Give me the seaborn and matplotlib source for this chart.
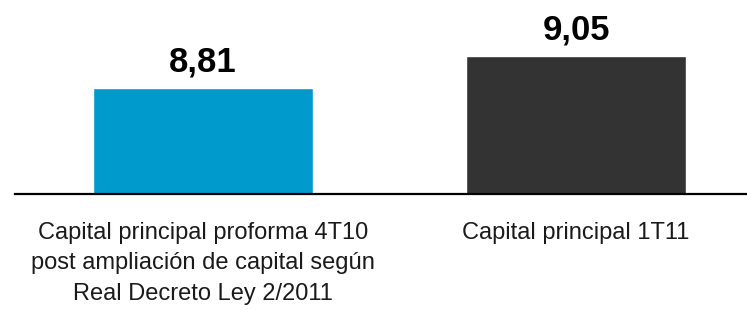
import matplotlib
matplotlib.use("Agg")
import matplotlib.pyplot as plt
import seaborn as sns
import pandas as pd

categories = ["Capital principal proforma 4T10\npost ampliación de capital según\nReal Decreto Ley 2/2011",
              "Capital principal 1T11"]
values = [8.81, 9.05]
value_labels = ["8,81", "9,05"]
colors = ["#009ACD", "#333333"]

sns.set_theme(style="white")
plt.rcParams['font.family'] = ['Liberation Sans', 'DejaVu Sans']

df = pd.DataFrame({"cat": categories, "val": values})

fig = plt.figure(figsize=(7.47, 3.10), dpi=100)
ax = fig.add_axes([15/747, 1 - 194/310, 1 - 15/747, 194/310])
sns.barplot(data=df, x="cat", y="val", hue="cat", palette=colors, width=0.59,
            legend=False, ax=ax, saturation=1)
ax.set_ylim(8.0, 9.48)
ax.set_xlim(-0.504, 1.458)
for s in ["top", "right", "left"]:
    ax.spines[s].set_visible(False)
ax.spines["bottom"].set_color("black")
ax.spines["bottom"].set_linewidth(1.6)
ax.set_yticks([])
ax.set_xlabel("")
ax.set_ylabel("")
ax.tick_params(axis="x", length=0, pad=20, labelsize=17, colors="#1a1a1a")
for lab in ax.get_xticklabels():
    lab.set_linespacing(1.5)
for i, (v, t) in enumerate(zip(values, value_labels)):
    ax.annotate(t, (i, v), xytext=(0, 7), textcoords="offset points",
                ha="center", va="bottom", fontsize=25, fontweight="bold", color="black")
fig.savefig("out.png", dpi=100)
